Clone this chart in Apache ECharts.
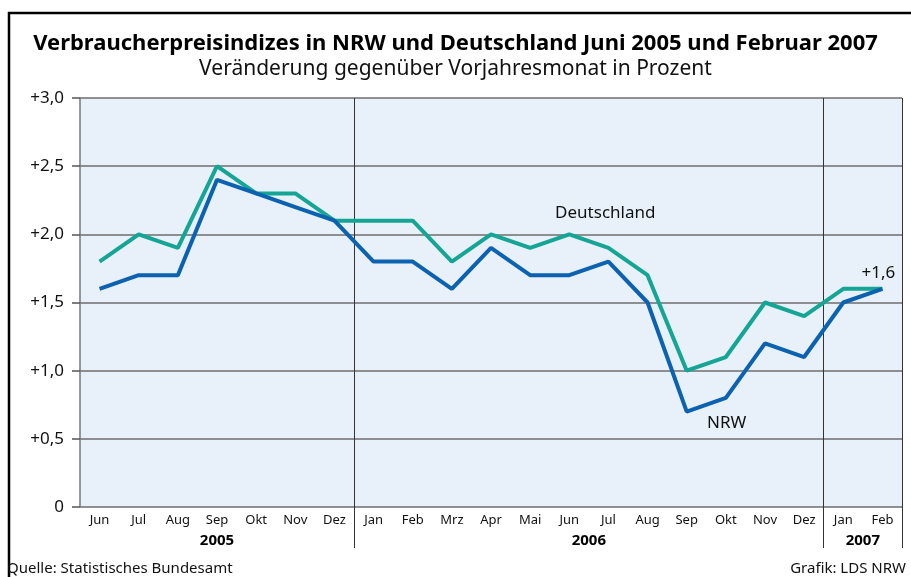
<!DOCTYPE html>
<html lang="de">
<head>
    <meta charset="UTF-8">
    <title>Verbraucherpreisindizes</title>
</head>
<style>
    html, body{
        margin: 0;
        padding: 0;
        background-color: #fff;
    }
    .main{
        width: 911px;
        height: 577px;
    }
</style>
<body>
<div id="main" class="main"></div>
<script src="https://cdn.jsdelivr.net/npm/echarts@6/dist/echarts.min.js"></script>
<script>
    // Monate Juni 2005 - Februar 2007
    var months = ['Jun','Jul','Aug','Sep','Okt','Nov','Dez',
        'Jan','Feb','Mrz','Apr','Mai','Jun','Jul','Aug','Sep','Okt','Nov','Dez',
        'Jan','Feb'];
    var deutschland = [1.8, 2.0, 1.9, 2.5, 2.3, 2.3, 2.1,
        2.1, 2.1, 1.8, 2.0, 1.9, 2.0, 1.9, 1.7, 1.0, 1.1, 1.5, 1.4,
        1.6, 1.6];
    var nrw = [1.6, 1.7, 1.7, 2.4, 2.3, 2.2, 2.1,
        1.8, 1.8, 1.6, 1.9, 1.7, 1.7, 1.8, 1.5, 0.7, 0.8, 1.2, 1.1,
        1.5, 1.6];
    var years = ['2005', '2006', '2007'];
    var yearStart = [0, 7, 19];
    var yearEnd = [7, 19, 21];

    var FONT = 'Noto Sans';
    var BLUE = '#0b62b1';
    var TEAL = '#15a594';

    function fmt(v) {
        if (v === 0) return '0';
        return '+' + v.toFixed(1).replace('.', ',');
    }

    var yearMid = [];
    for (var i = 0; i < years.length; i++) {
        yearMid.push((yearStart[i] + yearEnd[i]) / 2);
    }

    // Beschriftungen an einzelnen Punkten
    var deData = deutschland.map(function (v, i) {
        var item = {value: v};
        if (i == 12) {
            item.label = {show: true, formatter: 'Deutschland', offset: [36, -8], position: 'top'};
        }
        return item;
    });
    var nrwData = nrw.map(function (v, i) {
        var item = {value: v};
        if (i == 15) {
            item.label = {show: true, formatter: 'NRW', offset: [40, -2], position: 'bottom'};
        }
        if (i == nrw.length - 1) {
            item.label = {show: true, formatter: fmt(v), offset: [-4, -2], position: 'top'};
        }
        return item;
    });

    var app = echarts.init(document.getElementById('main'));

    var option = {
        animation: false,
        textStyle: {fontFamily: FONT},
        title: [
            {
                text: 'Verbraucherpreisindizes in NRW und Deutschland Juni 2005 und Februar 2007',
                left: 'center',
                top: 28,
                textStyle: {fontFamily: FONT, fontSize: 22, fontWeight: 'bold', color: '#000'}
            },
            {
                text: 'Veränderung gegenüber Vorjahresmonat in Prozent',
                left: 'center',
                top: 54,
                textStyle: {fontFamily: FONT, fontSize: 21, fontWeight: 'normal', color: '#111'}
            },
            {
                text: 'Quelle: Statistisches Bundesamt',
                left: 2,
                top: 556,
                textStyle: {fontFamily: FONT, fontSize: 15, fontWeight: 'normal', color: '#111'}
            },
            {
                text: 'Grafik: LDS NRW',
                right: 0,
                top: 556,
                textStyle: {fontFamily: FONT, fontSize: 15, fontWeight: 'normal', color: '#111'}
            }
        ],
        graphic: [
            {
                type: 'polyline',
                shape: {points: [[9, 580], [9, 13], [915, 13]]},
                style: {stroke: '#000', lineWidth: 2.5, fill: null},
                silent: true
            }
        ],
        grid: {
            left: 80,
            right: 9,
            top: 98,
            bottom: 70,
            show: true,
            backgroundColor: '#e8f0fa',
            borderWidth: 0
        },
        xAxis: [
            {
                type: 'category',
                data: months,
                boundaryGap: true,
                axisLine: {show: false},
                axisTick: {
                    show: true,
                    interval: function (index) {
                        return index == 7 || index == 19;
                    },
                    length: 41,
                    lineStyle: {color: '#333', width: 1}
                },
                axisLabel: {
                    interval: 0,
                    margin: 7,
                    fontSize: 13,
                    color: '#111',
                    fontFamily: FONT
                },
                splitLine: {
                    show: true,
                    interval: function (index) {
                        return index == 7 || index == 19;
                    },
                    lineStyle: {color: '#333', width: 1}
                }
            },
            {
                type: 'value',
                min: 0,
                max: 21,
                position: 'bottom',
                offset: 19,
                axisLine: {show: false},
                axisTick: {show: false},
                splitLine: {show: false},
                axisLabel: {
                    customValues: yearMid,
                    margin: 7,
                    fontSize: 15,
                    fontWeight: 'bold',
                    color: '#000',
                    fontFamily: FONT,
                    formatter: function (v) {
                        var k = yearMid.indexOf(v);
                        return k >= 0 ? years[k] : '';
                    }
                }
            }
        ],
        yAxis: {
            type: 'value',
            min: 0,
            max: 3,
            interval: 0.5,
            axisLine: {show: true, lineStyle: {color: '#777', width: 1.5}},
            axisTick: {show: true, length: 8, lineStyle: {color: '#555', width: 1.5}},
            axisLabel: {
                margin: 16,
                fontSize: 17,
                color: '#111',
                fontFamily: FONT,
                formatter: fmt
            },
            splitLine: {show: true, lineStyle: {color: '#6e6e6e', width: 1.5}}
        },
        series: [
            {
                name: 'Deutschland',
                type: 'line',
                data: deData,
                symbol: 'circle',
                symbolSize: 0,
                showSymbol: true,
                lineStyle: {color: TEAL, width: 4},
                itemStyle: {color: TEAL},
                label: {fontSize: 17, color: '#111', fontFamily: FONT},
                z: 3
            },
            {
                name: 'NRW',
                type: 'line',
                data: nrwData,
                symbol: 'circle',
                symbolSize: 0,
                showSymbol: true,
                lineStyle: {color: BLUE, width: 4},
                itemStyle: {color: BLUE},
                label: {fontSize: 17, color: '#111', fontFamily: FONT},
                z: 4
            }
        ]
    };
    app.setOption(option);
</script>
</body>
</html>
